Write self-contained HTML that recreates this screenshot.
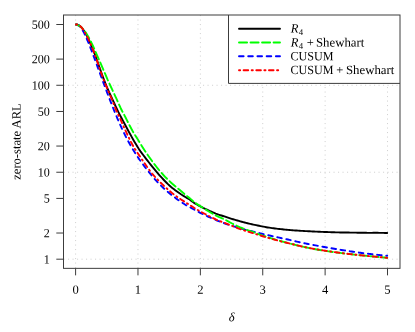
<!DOCTYPE html>
<html><head><meta charset="utf-8"><title>ARL chart</title>
<style>
html,body{margin:0;padding:0;background:#fff;}
body{width:415px;height:332px;overflow:hidden;position:relative;font-family:"Liberation Serif",serif;}
svg{will-change:transform;}
svg text{font-family:"Liberation Serif",serif;text-rendering:geometricPrecision;}
</style></head><body>
<svg width="415" height="332" viewBox="0 0 415 332" style="position:absolute;left:0;top:0">
<rect width="415" height="332" fill="#fff"/>
<line x1="75.60" y1="15.0" x2="75.60" y2="268.35" stroke="#d2d2d2" stroke-width="1" stroke-dasharray="1.1,3.4"/>
<line x1="137.98" y1="15.0" x2="137.98" y2="268.35" stroke="#d2d2d2" stroke-width="1" stroke-dasharray="1.1,3.4"/>
<line x1="200.36" y1="15.0" x2="200.36" y2="268.35" stroke="#d2d2d2" stroke-width="1" stroke-dasharray="1.1,3.4"/>
<line x1="262.74" y1="15.0" x2="262.74" y2="268.35" stroke="#d2d2d2" stroke-width="1" stroke-dasharray="1.1,3.4"/>
<line x1="325.12" y1="15.0" x2="325.12" y2="268.35" stroke="#d2d2d2" stroke-width="1" stroke-dasharray="1.1,3.4"/>
<line x1="387.50" y1="15.0" x2="387.50" y2="268.35" stroke="#d2d2d2" stroke-width="1" stroke-dasharray="1.1,3.4"/>
<line x1="63.5" y1="259.20" x2="400.0" y2="259.20" stroke="#d2d2d2" stroke-width="1" stroke-dasharray="1.1,3.4"/>
<line x1="63.5" y1="172.24" x2="400.0" y2="172.24" stroke="#d2d2d2" stroke-width="1" stroke-dasharray="1.1,3.4"/>
<line x1="63.5" y1="85.28" x2="400.0" y2="85.28" stroke="#d2d2d2" stroke-width="1" stroke-dasharray="1.1,3.4"/>
<g fill="none" stroke-linecap="round" stroke-linejoin="round" stroke-width="1.9">
<path d="M76.00,24.55 L76.41,24.52 L76.81,24.54 L77.22,24.60 L77.63,24.69 L78.03,24.83 L78.44,25.01 L78.85,25.22 L79.25,25.48 L79.66,25.76 L80.07,26.09 L80.47,26.45 L80.88,26.84 L81.29,27.27 L81.69,27.72 L82.10,28.21 L82.51,28.73 L82.92,29.28 L83.32,29.85 L83.73,30.46 L84.14,31.09 L84.54,31.74 L84.95,32.42 L85.36,33.13 L85.76,33.86 L86.17,34.61 L86.58,35.38 L86.98,36.17 L87.39,36.98 L87.80,37.81 L88.20,38.66 L88.61,39.52 L89.02,40.40 L89.42,41.30 L89.83,42.21 L90.24,43.13 L90.64,44.07 L91.05,45.01 L91.46,45.97 L91.86,46.94 L92.27,47.92 L92.68,48.90 L93.08,49.90 L93.49,50.90 L93.90,51.92 L94.31,52.94 L94.71,53.98 L95.12,55.02 L95.50,56.08 L95.89,57.14 L96.27,58.22 L96.66,59.30 L97.04,60.39 L97.43,61.49 L97.81,62.60 L98.20,63.71 L98.58,64.83 L98.97,65.94 L99.35,67.06 L99.74,68.18 L101.14,72.15 L102.58,76.07 L104.02,79.89 L105.46,83.56 L106.90,87.04 L108.34,90.38 L109.78,93.60 L111.23,96.77 L112.67,99.91 L114.11,103.02 L115.56,106.09 L117.00,109.13 L118.45,112.13 L119.98,115.09 L121.51,118.01 L123.03,120.89 L124.55,123.72 L126.03,126.51 L127.48,129.25 L128.92,131.94 L130.37,134.57 L131.82,137.16 L133.26,139.69 L134.71,142.16 L136.16,144.57 L137.60,146.92 L139.05,149.22 L140.49,151.37 L141.94,153.33 L143.39,155.26 L144.83,157.17 L146.28,159.05 L147.73,160.91 L149.17,162.76 L150.62,164.59 L152.06,166.41 L153.51,168.21 L154.96,169.97 L156.40,171.70 L157.85,173.39 L159.30,175.02 L160.74,176.61 L162.19,178.18 L163.63,179.73 L165.08,181.24 L166.53,182.71 L167.97,184.13 L169.42,185.48 L170.87,186.76 L172.31,187.96 L173.76,189.10 L175.20,190.19 L176.65,191.25 L178.10,192.28 L179.54,193.27 L180.99,194.25 L182.44,195.18 L183.88,196.08 L185.33,196.95 L186.77,197.81 L188.22,198.67 L189.67,199.54 L191.11,200.64 L192.56,201.78 L194.01,202.82 L195.45,203.70 L196.90,204.52 L198.34,205.32 L199.79,206.09 L201.24,206.85 L202.68,207.59 L204.13,208.31 L205.57,209.02 L207.02,209.71 L208.47,210.38 L209.91,211.04 L211.36,211.69 L212.81,212.32 L214.25,212.93 L215.70,213.53 L217.14,214.07 L218.59,214.58 L220.04,215.05 L221.48,215.52 L222.93,215.98 L224.38,216.45 L225.82,216.94 L227.27,217.42 L228.71,217.89 L230.16,218.35 L231.61,218.80 L233.05,219.24 L234.50,219.67 L235.95,220.09 L237.39,220.51 L238.84,220.92 L240.28,221.34 L241.73,221.74 L243.18,222.13 L244.62,222.51 L246.07,222.88 L247.52,223.24 L248.96,223.59 L250.41,223.93 L251.85,224.26 L253.30,224.58 L254.75,224.88 L256.19,225.19 L257.64,225.49 L259.09,225.79 L260.53,226.09 L261.98,226.38 L263.42,226.66 L264.87,226.93 L266.32,227.19 L267.76,227.44 L269.21,227.67 L270.66,227.88 L272.10,228.09 L273.55,228.28 L274.99,228.47 L276.44,228.65 L277.89,228.82 L279.33,228.99 L280.78,229.15 L282.23,229.30 L283.67,229.45 L285.12,229.59 L286.56,229.73 L288.01,229.87 L289.46,230.01 L290.90,230.14 L292.35,230.26 L293.79,230.36 L295.24,230.45 L296.69,230.54 L298.13,230.64 L299.58,230.75 L301.03,230.84 L302.47,230.92 L303.92,231.00 L305.36,231.08 L306.81,231.16 L308.26,231.23 L309.70,231.31 L311.15,231.38 L312.60,231.46 L314.04,231.53 L315.49,231.60 L316.93,231.67 L318.38,231.73 L319.83,231.80 L321.27,231.86 L322.72,231.91 L324.17,231.97 L325.61,232.02 L327.06,232.07 L328.50,232.12 L329.95,232.16 L331.40,232.20 L332.84,232.24 L334.29,232.28 L335.74,232.33 L337.18,232.37 L338.63,232.40 L340.07,232.44 L341.52,232.47 L342.97,232.50 L344.41,232.52 L345.86,232.54 L347.31,232.55 L348.75,232.57 L350.20,232.59 L351.64,232.60 L353.09,232.62 L354.54,232.64 L355.98,232.66 L357.43,232.68 L358.88,232.70 L360.32,232.72 L361.77,232.74 L363.21,232.77 L364.66,232.79 L366.11,232.82 L367.55,232.83 L369.00,232.83 L370.45,232.83 L371.89,232.83 L373.34,232.82 L374.78,232.82 L376.23,232.81 L377.68,232.82 L379.12,232.83 L380.57,232.85 L382.02,232.88 L383.46,232.91 L384.91,232.95 L386.35,232.99 L387.20,233.03" stroke="#000"/>
<path d="M76.07,24.55 L76.50,24.62 L76.94,24.74 L77.40,24.90 L77.87,25.11 L78.35,25.36 L78.84,25.65 L79.34,25.98 L79.74,26.34 L80.13,26.75 L80.52,27.19 L80.91,27.67 L81.30,28.18 L81.69,28.73 L82.07,29.30 L82.45,29.92 L82.83,30.56 L83.20,31.23 L83.58,31.93 L83.95,32.66 L84.32,33.41 L84.68,34.19 L85.05,35.00 L85.41,35.82 L85.78,36.68 L86.17,37.55 L86.58,38.44 L86.98,39.36 L87.39,40.29 L87.80,41.24 L88.20,42.20 L88.61,43.19 L89.02,44.18 L89.42,45.19 L89.83,46.22 L90.24,47.25 L90.64,48.30 L91.05,49.35 L91.46,50.41 L91.86,51.48 L92.27,52.56 L92.68,53.65 L93.08,54.73 L93.49,55.82 L93.90,56.92 L94.31,58.01 L94.71,59.11 L95.12,60.21 L95.53,61.31 L95.93,62.41 L96.34,63.51 L96.75,64.61 L97.15,65.72 L97.56,66.82 L97.97,67.92 L98.37,69.03 L98.78,70.13 L99.19,71.23 L99.59,72.34 L100.00,73.44 L101.45,77.36 L102.89,81.26 L104.34,85.15 L105.78,89.01 L107.23,92.84 L108.68,96.64 L110.12,100.39 L111.57,104.09 L113.02,107.74 L114.46,111.32 L115.91,114.84 L117.35,118.28 L118.80,121.65 L120.25,124.93 L121.69,128.11 L123.14,131.20 L124.59,134.18 L126.03,137.06 L127.48,139.84 L128.92,142.52 L130.37,145.11 L131.82,147.61 L133.26,150.02 L134.71,152.36 L136.16,154.62 L137.60,156.81 L139.05,158.94 L140.49,161.01 L141.94,163.02 L143.39,164.99 L144.83,166.90 L146.28,168.77 L147.73,170.60 L149.17,172.38 L150.62,174.15 L152.06,175.91 L153.51,177.63 L154.96,179.31 L156.40,180.93 L157.85,182.50 L159.30,184.00 L160.74,185.45 L162.19,186.85 L163.63,188.22 L165.08,189.54 L166.53,190.83 L167.97,192.08 L169.42,193.30 L170.87,194.48 L172.31,195.63 L173.76,196.75 L175.20,197.83 L176.65,198.89 L178.10,199.92 L179.54,200.92 L180.99,201.89 L182.44,202.84 L183.88,203.77 L185.33,204.68 L186.77,205.54 L188.22,206.34 L189.67,207.11 L191.11,207.88 L192.56,208.70 L194.01,209.52 L195.45,210.31 L196.90,211.09 L198.34,211.85 L199.79,212.60 L201.24,213.32 L202.68,214.04 L204.13,214.74 L205.57,215.43 L207.02,216.11 L208.47,216.77 L209.91,217.43 L211.36,218.07 L212.81,218.69 L214.25,219.31 L215.70,219.91 L217.14,220.51 L218.59,221.09 L220.04,221.66 L221.48,222.21 L222.93,222.75 L224.38,223.28 L225.82,223.79 L227.27,224.29 L228.71,224.77 L230.16,225.24 L231.61,225.70 L233.05,226.15 L234.50,226.59 L235.95,227.02 L237.39,227.43 L238.84,227.84 L240.28,228.25 L241.73,228.69 L243.18,229.12 L244.62,229.54 L246.07,229.94 L247.52,230.30 L248.96,230.63 L250.41,230.94 L251.85,231.25 L253.30,231.57 L254.75,231.92 L256.19,232.30 L257.64,232.67 L259.09,233.03 L260.53,233.39 L261.98,233.74 L263.42,234.09 L264.87,234.44 L266.32,234.78 L267.76,235.11 L269.21,235.45 L270.66,235.78 L272.10,236.10 L273.55,236.42 L274.99,236.74 L276.44,237.06 L277.89,237.37 L279.33,237.68 L280.78,237.99 L282.23,238.30 L283.67,238.61 L285.12,238.91 L286.56,239.22 L288.01,239.53 L289.46,239.86 L290.90,240.19 L292.35,240.53 L293.79,240.88 L295.24,241.22 L296.69,241.57 L298.13,241.91 L299.58,242.26 L301.03,242.56 L302.47,242.85 L303.92,243.14 L305.36,243.42 L306.81,243.71 L308.26,243.99 L309.70,244.27 L311.15,244.55 L312.60,244.83 L314.04,245.11 L315.49,245.38 L316.93,245.66 L318.38,245.93 L319.83,246.20 L321.27,246.46 L322.72,246.73 L324.17,246.99 L325.61,247.25 L327.06,247.51 L328.50,247.77 L329.95,248.02 L331.40,248.28 L332.84,248.53 L334.29,248.77 L335.74,249.02 L337.18,249.26 L338.63,249.50 L340.07,249.74 L341.52,249.97 L342.97,250.20 L344.41,250.43 L345.86,250.66 L347.31,250.88 L348.75,251.11 L350.20,251.32 L351.64,251.54 L353.09,251.75 L354.54,251.96 L355.98,252.16 L357.43,252.37 L358.88,252.57 L360.32,252.76 L361.77,252.96 L363.21,253.14 L364.66,253.33 L366.11,253.51 L367.55,253.69 L369.00,253.87 L370.45,254.04 L371.89,254.21 L373.34,254.37 L374.78,254.53 L376.23,254.69 L377.68,254.84 L379.12,254.99 L380.57,255.14 L382.02,255.28 L383.46,255.41 L384.91,255.55 L386.35,255.68 L387.20,255.80" stroke="#0000ff" stroke-dasharray="4.61,4.61"/>
<path d="M76.06,24.54 L76.49,24.64 L76.92,24.77 L77.37,24.92 L77.82,25.10 L78.27,25.30 L78.73,25.53 L79.20,25.78 L79.66,26.06 L80.07,26.36 L80.48,26.68 L80.90,27.03 L81.32,27.39 L81.73,27.78 L82.15,28.19 L82.57,28.62 L82.99,29.07 L83.40,29.54 L83.82,30.03 L84.24,30.53 L84.66,31.06 L85.08,31.60 L85.49,32.16 L85.88,32.74 L86.27,33.33 L86.66,33.94 L87.05,34.56 L87.43,35.20 L87.82,35.86 L88.21,36.52 L88.59,37.21 L88.98,37.90 L89.36,38.61 L89.74,39.33 L90.13,40.06 L90.50,40.80 L90.88,41.55 L91.25,42.32 L91.63,43.09 L92.00,43.87 L92.37,44.67 L92.74,45.47 L93.12,46.27 L93.49,47.09 L93.85,47.91 L94.22,48.74 L94.58,49.58 L94.95,50.42 L95.31,51.27 L95.68,52.12 L96.04,52.97 L96.40,53.83 L96.77,54.70 L97.15,55.56 L97.54,56.43 L97.93,57.30 L98.32,58.17 L98.71,59.05 L99.09,59.92 L99.48,60.80 L100.87,63.94 L102.24,67.10 L103.60,70.27 L104.96,73.46 L106.32,76.65 L107.68,79.85 L109.16,83.05 L110.64,86.25 L112.13,89.44 L113.61,92.61 L115.09,95.78 L116.53,98.92 L117.92,102.05 L119.32,105.15 L120.72,108.22 L122.22,111.25 L123.87,114.25 L125.43,117.21 L126.88,120.12 L128.32,122.99 L129.77,125.80 L131.22,128.56 L132.74,131.26 L134.34,133.89 L135.94,136.46 L137.54,138.98 L139.05,141.43 L140.49,143.82 L141.94,146.15 L143.39,148.43 L144.83,150.65 L146.28,152.81 L147.73,154.92 L149.17,156.98 L150.62,159.02 L152.06,161.05 L153.51,163.02 L154.96,164.92 L156.40,166.77 L157.85,168.57 L159.30,170.31 L160.74,172.01 L162.19,173.65 L163.63,175.25 L165.08,176.79 L166.53,178.27 L167.97,179.70 L169.42,181.08 L170.87,182.43 L172.31,183.75 L173.76,185.02 L175.20,186.24 L176.65,187.43 L178.10,188.62 L179.54,189.81 L180.99,191.02 L182.44,192.24 L183.88,193.47 L185.33,194.69 L186.77,195.88 L188.22,197.03 L189.67,198.13 L191.11,199.39 L192.56,200.68 L194.01,201.89 L195.45,202.93 L196.90,203.92 L198.34,204.89 L199.79,205.84 L201.24,206.78 L202.68,207.71 L204.13,208.62 L205.57,209.52 L207.02,210.40 L208.47,211.28 L209.91,212.14 L211.36,212.99 L212.81,213.82 L214.25,214.64 L215.70,215.44 L217.14,216.17 L218.59,216.83 L220.04,217.45 L221.48,218.06 L222.93,218.69 L224.38,219.36 L225.82,220.09 L227.27,220.86 L228.71,221.66 L230.16,222.46 L231.61,223.24 L233.05,223.97 L234.50,224.70 L235.95,225.41 L237.39,226.11 L238.84,226.77 L240.28,227.39 L241.73,227.97 L243.18,228.52 L244.62,229.04 L246.07,229.57 L247.52,230.10 L248.96,230.61 L250.41,231.12 L251.85,231.63 L253.30,232.15 L254.75,232.68 L256.19,233.22 L257.64,233.75 L259.09,234.27 L260.53,234.78 L261.98,235.28 L263.42,235.78 L264.87,236.26 L266.32,236.74 L267.76,237.21 L269.21,237.67 L270.66,238.13 L272.10,238.58 L273.55,239.01 L274.99,239.44 L276.44,239.87 L277.89,240.28 L279.33,240.69 L280.78,241.09 L282.23,241.49 L283.67,241.87 L285.12,242.25 L286.56,242.63 L288.01,243.02 L289.46,243.40 L290.90,243.78 L292.35,244.15 L293.79,244.51 L295.24,244.87 L296.69,245.22 L298.13,245.56 L299.58,245.90 L301.03,246.23 L302.47,246.56 L303.92,246.88 L305.36,247.20 L306.81,247.51 L308.26,247.82 L309.70,248.12 L311.15,248.42 L312.60,248.71 L314.04,249.00 L315.49,249.27 L316.93,249.52 L318.38,249.76 L319.83,250.00 L321.27,250.24 L322.72,250.47 L324.17,250.70 L325.61,250.92 L327.06,251.14 L328.50,251.35 L329.95,251.56 L331.40,251.77 L332.84,251.97 L334.29,252.17 L335.74,252.37 L337.18,252.56 L338.63,252.75 L340.07,252.93 L341.52,253.11 L342.97,253.29 L344.41,253.47 L345.86,253.64 L347.31,253.81 L348.75,253.98 L350.20,254.14 L351.64,254.30 L353.09,254.46 L354.54,254.62 L355.98,254.77 L357.43,254.93 L358.88,255.08 L360.32,255.23 L361.77,255.37 L363.21,255.52 L364.66,255.66 L366.11,255.80 L367.55,255.95 L369.00,256.08 L370.45,256.22 L371.89,256.36 L373.34,256.50 L374.78,256.63 L376.23,256.76 L377.68,256.90 L379.12,257.03 L380.57,257.16 L382.02,257.29 L383.46,257.43 L384.91,257.56 L386.35,257.69 L387.20,257.82" stroke="#00ff00" stroke-dasharray="8.07,3.46"/>
<path d="M76.00,24.55 L76.41,24.51 L76.81,24.52 L77.22,24.56 L77.63,24.66 L78.03,24.79 L78.44,24.96 L78.85,25.17 L79.25,25.42 L79.66,25.71 L80.07,26.03 L80.47,26.39 L80.88,26.78 L81.29,27.21 L81.69,27.67 L82.10,28.16 L82.51,28.69 L82.92,29.24 L83.32,29.82 L83.73,30.43 L84.14,31.07 L84.54,31.73 L84.95,32.42 L85.36,33.13 L85.76,33.86 L86.17,34.62 L86.58,35.40 L86.98,36.20 L87.39,37.02 L87.80,37.85 L88.20,38.71 L88.61,39.58 L89.02,40.47 L89.42,41.37 L89.83,42.28 L90.24,43.21 L90.64,44.15 L91.05,45.10 L91.46,46.06 L91.86,47.04 L92.27,48.01 L92.68,49.00 L93.08,50.00 L93.49,51.01 L93.90,52.03 L94.31,53.06 L94.71,54.11 L95.12,55.17 L95.50,56.25 L95.89,57.34 L96.27,58.45 L96.65,59.57 L97.04,60.70 L97.42,61.84 L97.81,62.99 L98.19,64.15 L98.57,65.31 L98.96,66.48 L99.34,67.65 L99.72,68.83 L101.18,72.99 L102.66,77.09 L104.15,81.07 L105.63,84.85 L107.12,88.42 L108.60,91.85 L110.08,95.23 L111.56,98.64 L112.96,102.08 L114.32,105.56 L115.68,109.04 L117.09,112.51 L118.80,115.97 L120.50,119.39 L121.99,122.77 L123.44,126.08 L124.89,129.31 L126.33,132.45 L127.77,135.49 L129.16,138.40 L130.55,141.18 L131.94,143.81 L133.34,146.27 L134.74,148.60 L136.16,150.82 L137.60,152.98 L139.05,155.10 L140.49,157.23 L141.94,159.38 L143.39,161.52 L144.83,163.64 L146.28,165.74 L147.73,167.78 L149.17,169.76 L150.62,171.67 L152.06,173.49 L153.51,175.22 L154.96,176.86 L156.40,178.42 L157.85,179.91 L159.30,181.34 L160.74,182.76 L162.19,184.18 L163.63,185.56 L165.08,186.92 L166.53,188.25 L167.97,189.55 L169.42,190.81 L170.87,192.02 L172.31,193.20 L173.76,194.33 L175.20,195.42 L176.65,196.47 L178.10,197.48 L179.54,198.46 L180.99,199.42 L182.44,200.35 L183.88,201.26 L185.33,202.19 L186.77,203.17 L188.22,204.08 L189.67,204.97 L191.11,205.87 L192.56,206.82 L194.01,207.75 L195.45,208.64 L196.90,209.50 L198.34,210.32 L199.79,211.13 L201.24,211.93 L202.68,212.73 L204.13,213.51 L205.57,214.28 L207.02,215.04 L208.47,215.79 L209.91,216.53 L211.36,217.26 L212.81,217.99 L214.25,218.70 L215.70,219.39 L217.14,220.03 L218.59,220.63 L220.04,221.20 L221.48,221.74 L222.93,222.27 L224.38,222.81 L225.82,223.38 L227.27,223.96 L228.71,224.54 L230.16,225.11 L231.61,225.69 L233.05,226.26 L234.50,226.85 L235.95,227.46 L237.39,228.05 L238.84,228.61 L240.28,229.14 L241.73,229.63 L243.18,230.11 L244.62,230.56 L246.07,231.03 L247.52,231.49 L248.96,231.95 L250.41,232.41 L251.85,232.84 L253.30,233.26 L254.75,233.70 L256.19,234.18 L257.64,234.66 L259.09,235.12 L260.53,235.58 L261.98,236.03 L263.42,236.48 L264.87,236.92 L266.32,237.35 L267.76,237.78 L269.21,238.20 L270.66,238.61 L272.10,239.02 L273.55,239.42 L274.99,239.81 L276.44,240.20 L277.89,240.59 L279.33,240.96 L280.78,241.34 L282.23,241.70 L283.67,242.06 L285.12,242.42 L286.56,242.76 L288.01,243.11 L289.46,243.45 L290.90,243.78 L292.35,244.11 L293.79,244.46 L295.24,244.84 L296.69,245.22 L298.13,245.60 L299.58,245.95 L301.03,246.28 L302.47,246.60 L303.92,246.92 L305.36,247.23 L306.81,247.53 L308.26,247.82 L309.70,248.11 L311.15,248.39 L312.60,248.66 L314.04,248.92 L315.49,249.17 L316.93,249.42 L318.38,249.66 L319.83,249.90 L321.27,250.14 L322.72,250.37 L324.17,250.60 L325.61,250.82 L327.06,251.04 L328.50,251.26 L329.95,251.47 L331.40,251.68 L332.84,251.88 L334.29,252.09 L335.74,252.29 L337.18,252.48 L338.63,252.68 L340.07,252.86 L341.52,253.05 L342.97,253.24 L344.41,253.42 L345.86,253.59 L347.31,253.77 L348.75,253.94 L350.20,254.11 L351.64,254.28 L353.09,254.44 L354.54,254.61 L355.98,254.77 L357.43,254.92 L358.88,255.08 L360.32,255.23 L361.77,255.38 L363.21,255.53 L364.66,255.68 L366.11,255.83 L367.55,255.97 L369.00,256.11 L370.45,256.25 L371.89,256.39 L373.34,256.53 L374.78,256.66 L376.23,256.79 L377.68,256.93 L379.12,257.06 L380.57,257.19 L382.02,257.32 L383.46,257.44 L384.91,257.57 L386.35,257.70 L387.20,257.82" stroke="#ff0000" stroke-dasharray="1.15,3.46,4.61,3.46"/>
</g>
<line x1="75.60" y1="268.35" x2="75.60" y2="275.35" stroke="#3c3c3c" stroke-width="1"/>
<text x="75.60" y="293.8" text-anchor="middle" font-size="12.6" fill="#000" transform="rotate(0.04 75.60 293.8)">0</text>
<line x1="137.98" y1="268.35" x2="137.98" y2="275.35" stroke="#3c3c3c" stroke-width="1"/>
<text x="137.98" y="293.8" text-anchor="middle" font-size="12.6" fill="#000" transform="rotate(0.04 137.98 293.8)">1</text>
<line x1="200.36" y1="268.35" x2="200.36" y2="275.35" stroke="#3c3c3c" stroke-width="1"/>
<text x="200.36" y="293.8" text-anchor="middle" font-size="12.6" fill="#000" transform="rotate(0.04 200.36 293.8)">2</text>
<line x1="262.74" y1="268.35" x2="262.74" y2="275.35" stroke="#3c3c3c" stroke-width="1"/>
<text x="262.74" y="293.8" text-anchor="middle" font-size="12.6" fill="#000" transform="rotate(0.04 262.74 293.8)">3</text>
<line x1="325.12" y1="268.35" x2="325.12" y2="275.35" stroke="#3c3c3c" stroke-width="1"/>
<text x="325.12" y="293.8" text-anchor="middle" font-size="12.6" fill="#000" transform="rotate(0.04 325.12 293.8)">4</text>
<line x1="387.50" y1="268.35" x2="387.50" y2="275.35" stroke="#3c3c3c" stroke-width="1"/>
<text x="387.50" y="293.8" text-anchor="middle" font-size="12.6" fill="#000" transform="rotate(0.04 387.50 293.8)">5</text>
<line x1="56.3" y1="24.50" x2="63.5" y2="24.50" stroke="#3c3c3c" stroke-width="1"/>
<text x="49.8" y="28.70" text-anchor="end" font-size="12.6" fill="#000" textLength="18.09" lengthAdjust="spacingAndGlyphs" transform="rotate(0.04 49.8 28.70)">500</text>
<line x1="56.3" y1="59.10" x2="63.5" y2="59.10" stroke="#3c3c3c" stroke-width="1"/>
<text x="49.8" y="63.30" text-anchor="end" font-size="12.6" fill="#000" textLength="18.09" lengthAdjust="spacingAndGlyphs" transform="rotate(0.04 49.8 63.30)">200</text>
<line x1="56.3" y1="85.28" x2="63.5" y2="85.28" stroke="#3c3c3c" stroke-width="1"/>
<text x="49.8" y="89.48" text-anchor="end" font-size="12.6" fill="#000" textLength="18.09" lengthAdjust="spacingAndGlyphs" transform="rotate(0.04 49.8 89.48)">100</text>
<line x1="56.3" y1="111.46" x2="63.5" y2="111.46" stroke="#3c3c3c" stroke-width="1"/>
<text x="49.8" y="115.66" text-anchor="end" font-size="12.6" fill="#000" textLength="12.06" lengthAdjust="spacingAndGlyphs" transform="rotate(0.04 49.8 115.66)">50</text>
<line x1="56.3" y1="146.06" x2="63.5" y2="146.06" stroke="#3c3c3c" stroke-width="1"/>
<text x="49.8" y="150.26" text-anchor="end" font-size="12.6" fill="#000" textLength="12.06" lengthAdjust="spacingAndGlyphs" transform="rotate(0.04 49.8 150.26)">20</text>
<line x1="56.3" y1="172.24" x2="63.5" y2="172.24" stroke="#3c3c3c" stroke-width="1"/>
<text x="49.8" y="176.44" text-anchor="end" font-size="12.6" fill="#000" textLength="12.06" lengthAdjust="spacingAndGlyphs" transform="rotate(0.04 49.8 176.44)">10</text>
<line x1="56.3" y1="198.42" x2="63.5" y2="198.42" stroke="#3c3c3c" stroke-width="1"/>
<text x="49.8" y="202.62" text-anchor="end" font-size="12.6" fill="#000" textLength="6.03" lengthAdjust="spacingAndGlyphs" transform="rotate(0.04 49.8 202.62)">5</text>
<line x1="56.3" y1="233.02" x2="63.5" y2="233.02" stroke="#3c3c3c" stroke-width="1"/>
<text x="49.8" y="237.22" text-anchor="end" font-size="12.6" fill="#000" textLength="6.03" lengthAdjust="spacingAndGlyphs" transform="rotate(0.04 49.8 237.22)">2</text>
<line x1="56.3" y1="259.20" x2="63.5" y2="259.20" stroke="#3c3c3c" stroke-width="1"/>
<text x="49.8" y="263.40" text-anchor="end" font-size="12.6" fill="#000" textLength="6.03" lengthAdjust="spacingAndGlyphs" transform="rotate(0.04 49.8 263.40)">1</text>
<text x="231.8" y="321.2" text-anchor="middle" font-size="12.6" font-style="italic" fill="#000" transform="rotate(0.04 231.8 321.2)">δ</text>
<text transform="translate(20.5,141.5) rotate(-90.04)" text-anchor="middle" font-size="12.6" fill="#000">zero-state ARL</text>
<rect x="228.5" y="15.0" width="171.5" height="68.4" fill="#fff"/>
<path d="M228.5,15.0 L228.5,83.4 L400.0,83.4" fill="none" stroke="#3c3c3c" stroke-width="1"/>
<rect x="63.5" y="15.0" width="336.5" height="253.35000000000002" fill="none" stroke="#3c3c3c" stroke-width="1"/>
<g fill="none" stroke-linecap="round" stroke-width="1.9">
<path d="M239,28.7 L280,28.7" stroke="#000"/>
<path d="M239,42.5 L280,42.5" stroke="#00ff00" stroke-dasharray="8.07,3.46"/>
<path d="M239,56.3 L280,56.3" stroke="#0000ff" stroke-dasharray="4.61,4.61"/>
<path d="M239,70.2 L280,70.2" stroke="#ff0000" stroke-dasharray="1.15,3.46,4.61,3.46"/>
</g>
<text x="290.8" y="32.60" font-size="12.6" fill="#000" font-style="italic" transform="rotate(0.04 290.8 32.60)">R</text>
<text x="298.8" y="34.90" font-size="8.8" fill="#000" transform="rotate(0.04 298.8 34.90)">4</text>
<text x="290.8" y="46.40" font-size="12.6" fill="#000" font-style="italic" transform="rotate(0.04 290.8 46.40)">R</text>
<text x="298.8" y="48.70" font-size="8.8" fill="#000" transform="rotate(0.04 298.8 48.70)">4</text>
<text x="310.2" y="46.40" font-size="12.6" fill="#000" text-anchor="middle" transform="rotate(0.04 310.2 46.40)">+</text>
<text x="316.0" y="46.40" font-size="12.6" fill="#000" textLength="48.3" lengthAdjust="spacingAndGlyphs" transform="rotate(0.04 316.0 46.40)">Shewhart</text>
<text x="290.5" y="60.20" font-size="12.6" fill="#000" textLength="43.0" lengthAdjust="spacingAndGlyphs" transform="rotate(0.04 290.5 60.20)">CUSUM</text>
<text x="290.5" y="74.10" font-size="12.6" fill="#000" textLength="43.0" lengthAdjust="spacingAndGlyphs" transform="rotate(0.04 290.5 74.10)">CUSUM</text>
<text x="339.7" y="74.10" font-size="12.6" fill="#000" text-anchor="middle" transform="rotate(0.04 339.7 74.10)">+</text>
<text x="346.0" y="74.10" font-size="12.6" fill="#000" textLength="48.3" lengthAdjust="spacingAndGlyphs" transform="rotate(0.04 346.0 74.10)">Shewhart</text>
</svg>
</body></html>
